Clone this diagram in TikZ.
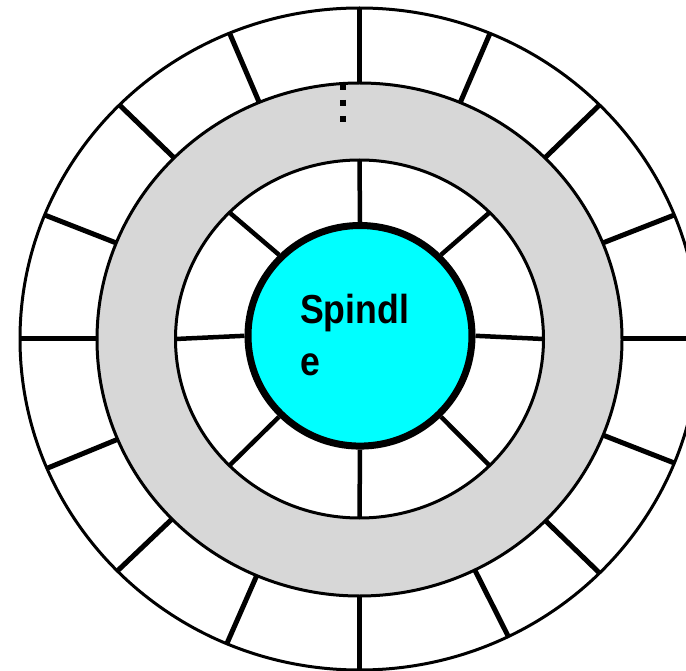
\documentclass[tikz,border=0pt]{standalone}
\usepackage{fontspec}
\usetikzlibrary{shapes.geometric}
\newfontfamily\spfont{Liberation Sans}[FakeStretch=0.88]
\definecolor{ringgray}{RGB}{215,215,215}
\definecolor{spincyan}{RGB}{0,255,255}
\tikzset{
  rimline/.style={draw=black, line width=3pt},
  spokeline/.style={draw=black, line width=5pt, line cap=butt},
  labeltext/.style={anchor=base west, inner sep=0pt, font=\spfont\bfseries\fontsize{40.5}{48}\selectfont}
}
\begin{document}
\begin{tikzpicture}[x=1pt,y=-1pt]
\useasboundingbox (0,0) rectangle (686,671);
\clip (0,0) rectangle (686,671);
\fill[white] (0,0) rectangle (686,671);
% outer rim
\draw[rimline, fill=white] (359.5,339) ellipse [x radius=339.5pt, y radius=331pt];
% outer spokes
\foreach \t in {0,22,45,67.4,90,112.5,135,158,180,203,224.5,247,270,296,315,338}{
  \draw[spokeline] ({359.5+262.5*cos(\t)},{339-256.5*sin(\t)}) -- ({359.5+339.5*cos(\t)},{339-331*sin(\t)});
}
% grey ring
\fill[ringgray, even odd rule] (359.5,339.5) ellipse [x radius=262.5pt, y radius=256.5pt]
      (359.5,339) ellipse [x radius=184pt, y radius=179pt];
\draw[rimline] (359.5,339.5) ellipse [x radius=262.5pt, y radius=256.5pt];
\draw[rimline, fill=white] (359.5,339) ellipse [x radius=184pt, y radius=179pt];
% dotted mark
\draw[line width=6pt, dash pattern=on 6pt off 10pt] (343,84) -- (343,124);
% spindle
\node[ellipse, draw=black, fill=spincyan, line width=7pt, minimum width=224pt, minimum height=220.6pt, inner sep=0pt] (spindle) at (360,335.8) {};
% inner spokes
\foreach \t in {0,45,90,135,180,225,270,315}{
  \draw[spokeline, line width=4.5pt] (spindle.\t) -- ({359.5+184*cos(\t)},{339-179*sin(\t)});
}
\node[labeltext] (lab1) at (300,323.5) {Spindl};
\node[labeltext] (lab2) at (300,375) {e};
\end{tikzpicture}
\end{document}
